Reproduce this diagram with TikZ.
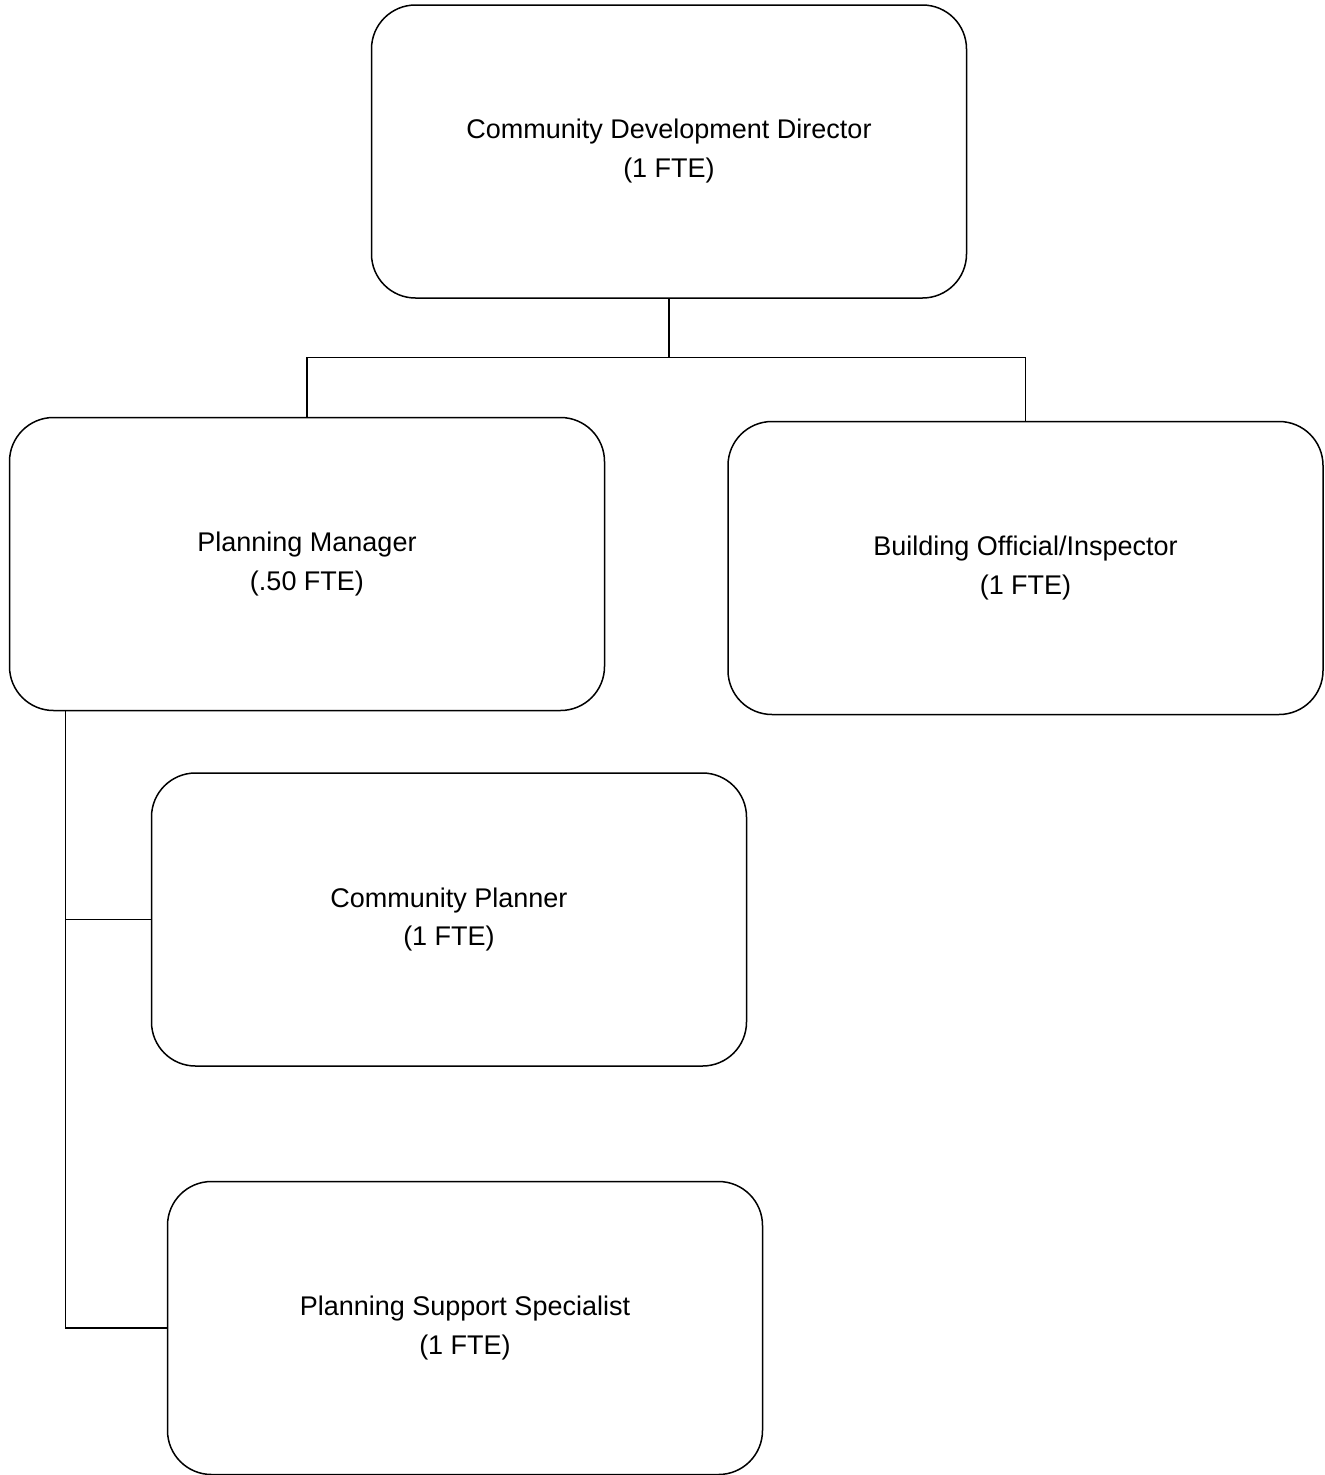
\documentclass[tikz,border=0pt]{standalone}
\usepackage{fontspec}
\setmainfont{Liberation Sans}
\usetikzlibrary{calc}
\begin{document}
\begin{tikzpicture}[x=1pt,y=-1pt,
  post/.style={draw=black, line width=1.5pt, rounded corners=44pt,
    minimum width=595pt, minimum height=293pt, inner sep=0pt,
    align=center, font=\fontsize{27}{39}\selectfont},
  link/.style={draw=black, line width=1.4pt}]
  \useasboundingbox (0,0) rectangle (1325,1475);

  % positions
  \node[post] (dir) at (669,151.5) {Community Development Director\\(1 FTE)};
  \node[post] (pm)  at (307,564)   {Planning Manager\\(.50 FTE)};
  \node[post] (bo)  at (1025.5,568) {Building Official/Inspector\\(1 FTE)};
  \node[post] (cp)  at (449,919.5) {Community Planner\\(1 FTE)};
  \node[post] (pss) at (465,1328)  {Planning Support Specialist\\(1 FTE)};

  % director to its two direct reports
  \coordinate (bus) at ($(dir.south)+(0,59)$);
  \draw[link] (dir.south) -- (bus);
  \draw[link] (pm.north) |- (bus) -| (bo.north);

  % planning manager to planning staff
  \coordinate (spine) at ($(pm.south west)+(57,0)$);
  \draw[link] (spine) |- (cp.west);
  \draw[link] (spine) |- (pss.west);
\end{tikzpicture}
\end{document}
